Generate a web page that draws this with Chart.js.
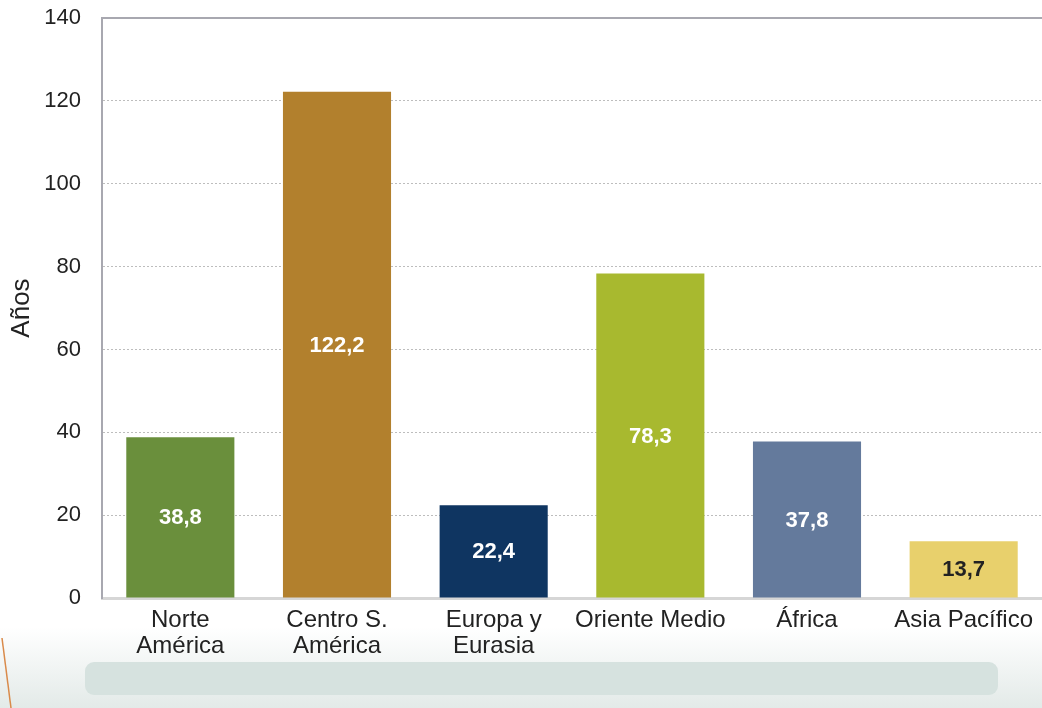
<!DOCTYPE html>
<html>
<head>
<meta charset="utf-8">
<script src="https://cdn.jsdelivr.net/npm/chart.js@4"></script>
<style>
  html, body { margin: 0; padding: 0; background: #fff; }
  #wrap { position: relative; width: 1042px; height: 708px; overflow: hidden; }
  .fondo { position: absolute; left: 0; right: 0; top: 600px; bottom: 0;
    background: linear-gradient(to bottom, #ffffff 0%, #ffffff 25%, #e3eae8 100%); }
  .barra { position: absolute; left: 85px; top: 662px; width: 913px; height: 33px;
    background: #d6e2df; border-radius: 9px; }
  svg.curva { position: absolute; left: 0; top: 620px; }
  canvas { position: absolute; left: 0; top: 0; }
</style>
</head>
<body>
<div id="wrap">
  <div class="fondo"></div>
  <div class="barra"></div>
  <svg class="curva" width="20" height="88"><path d="M2 18 Q6 50 11 88" fill="none" stroke="#d98a4a" stroke-width="1.5"/></svg>
  <canvas id="grafico" width="1042" height="708"></canvas>
</div>
<script>
// ===== Datos =====
const regiones = [['Norte', 'América'], ['Centro S.', 'América'], ['Europa y', 'Eurasia'], 'Oriente Medio', 'África', 'Asia Pacífico'];
const anos = [38.8, 122.2, 22.4, 78.3, 37.8, 13.7];
const colores = ['#6a8f3c', '#b2802d', '#0f3561', '#a8b92f', '#647a9c', '#e8d06c'];
const coresTexto = ['#ffffff', '#ffffff', '#ffffff', '#ffffff', '#ffffff', '#222222'];

const fonte = '"Liberation Sans", Arial, sans-serif';

// ===== Plugins =====
const valoresBarras = {
  id: 'valoresBarras',
  afterDatasetsDraw(chart) {
    const { ctx } = chart;
    const meta = chart.getDatasetMeta(0);
    ctx.save();
    ctx.font = 'bold 22px ' + fonte;
    ctx.textAlign = 'center';
    ctx.textBaseline = 'middle';
    meta.data.forEach((bar, i) => {
      const mid = (bar.y + bar.base) / 2;
      ctx.fillStyle = coresTexto[i];
      ctx.fillText(anos[i].toFixed(1).replace('.', ','), bar.x, mid + 1);
    });
    ctx.restore();
  }
};

const bordaSuperior = {
  id: 'bordaSuperior',
  afterDraw(chart) {
    const { ctx, chartArea } = chart;
    ctx.save();
    ctx.strokeStyle = '#a8a8b0';
    ctx.lineWidth = 2;
    ctx.beginPath();
    ctx.moveTo(chartArea.left, chartArea.top);
    ctx.lineTo(chartArea.right, chartArea.top);
    ctx.stroke();
    ctx.restore();
  }
};

// ===== Gráfico =====
new Chart(document.getElementById('grafico'), {
  type: 'bar',
  data: {
    labels: regiones,
    datasets: [{
      data: anos,
      backgroundColor: colores,
      borderWidth: 0,
      categoryPercentage: 1,
      barPercentage: 0.69
    }]
  },
  options: {
    responsive: false,
    animation: false,
    layout: { padding: { top: 0, right: 0, bottom: 48, left: 6 } },
    plugins: {
      legend: { display: false },
      tooltip: { enabled: false }
    },
    scales: {
      x: {
        grid: { display: false },
        border: { color: '#d6d6d6', width: 3 },
        ticks: {
          color: '#222',
          padding: 1,
          maxRotation: 0,
          autoSkip: false,
          font: { family: fonte, size: 24, lineHeight: 1.083 }
        }
      },
      y: {
        min: 0,
        max: 140,
        afterFit(scale) {
          scale.width = 96;
          scale.paddingTop = 18;
        },
        ticks: {
          stepSize: 20,
          color: '#222',
          padding: 21,
          font: { family: fonte, size: 22 }
        },
        grid: { color: '#bdbdbd', lineWidth: 1, drawTicks: false },
        border: { color: '#a8a8b0', width: 2, dash: [2, 2] },
        title: {
          display: true,
          text: 'Años',
          color: '#222',
          padding: { top: 0, bottom: 8 },
          font: { family: fonte, size: 26 }
        }
      }
    }
  },
  plugins: [valoresBarras, bordaSuperior]
});
</script>
</body>
</html>
